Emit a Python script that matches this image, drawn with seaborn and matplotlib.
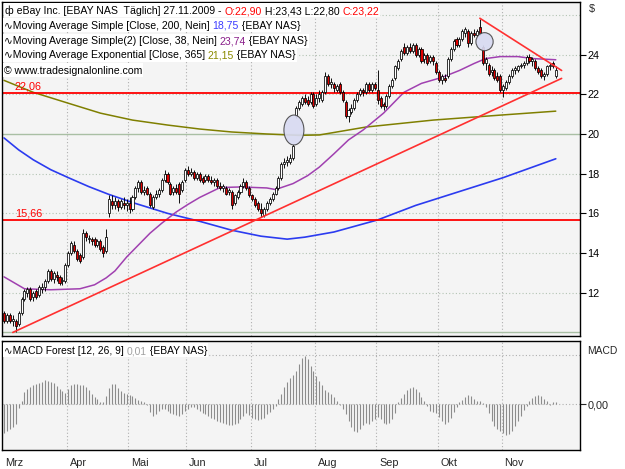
import numpy as np
import pandas as pd
import matplotlib
matplotlib.use("Agg")
import matplotlib.pyplot as plt
import seaborn as sns
from matplotlib.patches import Ellipse, Rectangle
from matplotlib.transforms import ScaledTranslation

# ---------------- data ----------------
months = ['Mrz', 'Apr', 'Mai', 'Jun', 'Jul', 'Aug', 'Sep', 'Okt', 'Nov']
month_start = [0, 22, 43, 63, 85, 107, 128, 149, 171]

opens = [11.0, 10.6, 10.9, 10.6, 10.6, 10.4, 11.0, 11.7, 12.0, 12.2, 11.8, 12.1, 11.9, 12.2, 12.3, 12.6, 13.1, 12.7, 12.9, 12.8,
         12.6, 12.6, 13.4, 14.0, 14.4, 14.1, 13.9, 13.8, 15.0, 14.7, 14.7, 14.7, 14.4, 14.6, 14.3, 14.1, 16.0, 16.6, 16.4, 16.6,
         16.3, 16.5, 16.4, 16.5, 16.2, 16.8, 17.3, 17.6, 17.1, 17.3, 17.0, 16.3, 16.8, 17.0, 17.2, 17.7, 18.0, 17.5, 17.1, 17.3,
         17.5, 17.2, 17.7, 18.2, 18.0, 18.1, 17.8, 18.0, 17.8, 17.7, 17.9, 17.7, 17.6, 17.7, 17.4, 17.3, 17.3, 17.1, 17.1, 16.5,
         16.8, 17.1, 17.4, 17.6, 17.3, 16.9, 16.7, 16.5, 16.2, 15.9, 16.2, 16.5, 16.7, 17.0, 17.3, 17.8, 18.5, 18.6, 18.6, 18.8,
         20.9, 21.3, 21.5, 21.8, 21.7, 21.6, 22.0, 21.5, 21.8, 21.7, 22.1, 22.9, 22.5, 22.5, 22.2, 22.5, 22.1, 21.6, 20.9, 21.1,
         21.3, 21.7, 22.0, 22.2, 22.1, 22.5, 22.2, 22.5, 22.2, 21.8, 21.5, 21.4, 21.9, 22.4, 22.8, 23.3, 23.8, 24.4, 24.1, 24.4,
         24.2, 24.5, 24.0, 24.3, 23.8, 24.0, 23.7, 23.9, 23.6, 23.1, 22.7, 22.8, 22.9, 23.8, 24.3, 24.8, 24.5, 24.8, 25.1, 25.2,
         24.6, 25.1, 25.0, 25.4, 24.4, 23.6, 23.5, 23.1, 23.2, 22.9, 22.9, 22.2, 22.3, 22.6, 22.9, 23.2, 23.2, 23.4, 23.5, 23.6,
         23.9, 23.7, 23.7, 23.3, 23.2, 22.9, 23.0, 23.4, 23.6, 22.90]
highs = [11.1, 11.0, 11.0, 10.9, 10.7, 11.1, 11.8, 12.2, 12.3, 12.3, 12.1, 12.2, 12.4, 12.5, 12.7, 13.2, 13.2, 13.1, 13.1, 12.9,
         12.8, 13.5, 14.1, 14.6, 14.6, 14.2, 14.0, 15.2, 15.1, 14.9, 14.8, 14.8, 14.7, 14.7, 14.4, 15.2, 16.9, 16.9, 16.8, 16.7,
         16.7, 16.8, 16.7, 16.8, 16.9, 17.4, 17.7, 17.7, 17.4, 17.4, 17.1, 16.9, 17.2, 17.3, 17.8, 18.2, 18.1, 17.6, 17.4, 17.5,
         17.6, 17.7, 18.3, 18.4, 18.3, 18.2, 18.1, 18.1, 17.9, 18.0, 18.0, 17.9, 17.8, 17.8, 17.6, 17.5, 17.4, 17.3, 17.2, 17.0,
         17.2, 17.5, 17.8, 17.7, 17.4, 17.0, 16.8, 16.6, 16.5, 16.3, 16.6, 16.8, 17.1, 17.4, 17.9, 18.6, 18.8, 18.9, 19.0, 19.5,
         21.4, 21.7, 21.9, 22.0, 21.9, 22.1, 22.1, 22.0, 22.2, 22.2, 23.1, 23.0, 22.8, 22.6, 22.5, 22.6, 22.2, 21.7, 21.3, 21.5,
         21.8, 22.1, 22.3, 22.3, 22.6, 22.6, 22.6, 22.6, 23.2, 21.9, 21.6, 22.0, 22.5, 22.8, 23.5, 23.8, 24.3, 24.6, 24.5, 24.6,
         24.6, 24.6, 24.4, 24.4, 24.1, 24.1, 24.0, 24.0, 23.7, 23.2, 23.0, 23.0, 23.9, 24.4, 24.8, 24.9, 24.9, 25.3, 25.4, 25.3,
         25.2, 25.3, 25.3, 25.8, 24.5, 23.9, 23.6, 23.4, 23.3, 23.1, 23.0, 22.5, 22.7, 23.0, 23.3, 23.4, 23.5, 23.6, 23.7, 24.0,
         24.05, 23.9, 23.8, 23.4, 23.3, 23.1, 23.5, 23.6, 23.7, 23.43]
lows = [10.5, 10.5, 10.5, 10.3, 10.0, 10.3, 10.9, 11.6, 11.8, 11.6, 11.6, 11.7, 11.8, 12.0, 12.1, 12.5, 12.6, 12.5, 12.6, 12.4,
        12.4, 12.5, 13.3, 13.9, 14.0, 13.6, 13.5, 13.7, 14.6, 14.5, 14.4, 14.3, 14.3, 14.1, 13.8, 14.0, 15.8, 16.2, 16.2, 16.1,
        16.2, 16.2, 16.1, 16.0, 16.1, 16.7, 17.1, 17.0, 16.9, 16.9, 16.3, 16.2, 16.7, 16.8, 17.1, 17.6, 17.5, 16.9, 16.9, 17.0,
        16.5, 17.1, 17.6, 17.9, 17.9, 17.7, 17.7, 17.6, 17.5, 17.6, 17.6, 17.5, 17.4, 17.3, 17.2, 17.1, 16.9, 16.9, 16.2, 16.4,
        16.7, 17.0, 17.3, 17.2, 16.8, 16.6, 16.3, 16.1, 15.8, 15.8, 16.1, 16.4, 16.6, 16.9, 17.2, 17.7, 18.3, 18.4, 18.5, 18.7,
        20.8, 21.2, 21.4, 21.5, 21.4, 21.5, 21.3, 21.4, 21.6, 21.6, 22.0, 22.4, 22.3, 22.1, 22.1, 22.0, 21.6, 20.8, 20.6, 21.0,
        21.2, 21.6, 21.9, 21.9, 22.0, 22.1, 22.1, 22.2, 21.5, 21.3, 21.2, 21.3, 21.8, 22.3, 22.7, 23.2, 23.7, 24.0, 24.0, 24.1,
        24.1, 23.9, 23.9, 23.6, 23.6, 23.5, 23.6, 23.5, 23.0, 22.6, 22.5, 22.6, 22.8, 23.7, 24.2, 24.4, 24.4, 24.7, 24.9, 24.4,
        24.5, 24.9, 24.9, 25.0, 23.5, 23.2, 22.9, 22.9, 22.7, 22.6, 22.1, 21.85, 22.2, 22.5, 22.8, 23.0, 23.1, 23.3, 23.3, 23.5,
        23.6, 23.4, 23.2, 23.0, 22.8, 22.7, 22.9, 23.2, 23.3, 22.80]
closes = [10.6, 10.9, 10.6, 10.7, 10.3, 11.0, 11.7, 12.1, 12.2, 11.7, 12.0, 11.8, 12.3, 12.3, 12.6, 13.1, 12.7, 13.0, 12.8, 12.5,
          12.6, 13.4, 14.0, 14.5, 14.1, 13.7, 13.6, 15.0, 14.8, 14.7, 14.6, 14.4, 14.6, 14.2, 14.0, 14.8, 16.7, 16.4, 16.6, 16.3,
          16.6, 16.4, 16.5, 16.2, 16.8, 17.3, 17.6, 17.1, 17.2, 17.0, 16.4, 16.8, 17.0, 17.2, 17.7, 18.0, 17.6, 17.0, 17.3, 17.1,
          17.0, 17.6, 18.2, 18.0, 18.1, 17.8, 18.0, 17.7, 17.6, 17.9, 17.7, 17.6, 17.7, 17.4, 17.3, 17.4, 17.0, 17.2, 16.4, 16.9,
          17.1, 17.4, 17.6, 17.3, 16.9, 16.7, 16.4, 16.2, 16.0, 16.2, 16.5, 16.7, 17.0, 17.3, 17.8, 18.5, 18.6, 18.7, 18.8, 19.4,
          21.3, 21.6, 21.8, 21.6, 21.5, 22.0, 21.4, 21.8, 22.0, 22.1, 22.9, 22.5, 22.6, 22.3, 22.4, 22.1, 21.7, 20.9, 21.2, 21.3,
          21.7, 22.0, 22.2, 22.1, 22.5, 22.2, 22.5, 22.3, 21.7, 21.4, 21.4, 21.9, 22.4, 22.7, 23.4, 23.7, 24.2, 24.1, 24.4, 24.2,
          24.5, 24.0, 24.3, 23.7, 24.0, 23.6, 23.9, 23.7, 23.1, 22.7, 22.9, 22.7, 23.8, 24.3, 24.7, 24.5, 24.8, 25.2, 25.3, 24.6,
          25.1, 25.0, 25.2, 25.1, 23.6, 23.8, 23.0, 23.2, 22.8, 22.7, 22.2, 22.4, 22.6, 22.9, 23.2, 23.3, 23.4, 23.5, 23.6, 23.9,
          23.7, 23.8, 23.3, 23.1, 22.9, 23.0, 23.4, 23.5, 23.4, 23.22]

macd = [-0.29, -0.27, -0.25, -0.23, -0.20, -0.04, 0.03, 0.12, 0.15, 0.17, 0.19, 0.20, 0.21, 0.22, 0.24, 0.23, 0.22, 0.21, 0.18, 0.15,
        0.13, 0.11, 0.15, 0.19, 0.20, 0.20, 0.19, 0.19, 0.17, 0.14, 0.10, 0.07, 0.05, 0.02, 0.02, 0.08, 0.16, 0.20, 0.20, 0.16,
        0.13, 0.11, 0.10, 0.09, 0.08, 0.06, 0.04, 0.03, 0.02, -0.01, -0.08, -0.12, -0.10, -0.07, -0.05, -0.05, -0.07, -0.09, -0.10, -0.11,
        -0.12, -0.10, -0.07, -0.05, -0.03, -0.03, -0.05, -0.07, -0.09, -0.10, -0.12, -0.14, -0.15, -0.17, -0.18, -0.19, -0.20, -0.21, -0.21, -0.20,
        -0.19, -0.15, -0.12, -0.09, -0.11, -0.14, -0.15, -0.16, -0.15, -0.14, -0.10, -0.08, -0.05, -0.02, 0.05, 0.10, 0.17, 0.22, 0.26, 0.29,
        0.33, 0.40, 0.46, 0.48, 0.45, 0.38, 0.33, 0.28, 0.23, 0.19, 0.14, 0.12, 0.10, 0.07, 0.03, -0.01, -0.05, -0.10, -0.17, -0.23,
        -0.27, -0.28, -0.25, -0.21, -0.19, -0.20, -0.17, -0.15, -0.13, -0.15, -0.19, -0.20, -0.19, -0.15, -0.09, 0.02, 0.06, 0.10, 0.14, 0.16,
        0.17, 0.15, 0.12, 0.07, 0.03, -0.02, -0.07, -0.08, -0.09, -0.13, -0.17, -0.20, -0.18, -0.14, -0.08, -0.03, 0.02, 0.04, 0.07, 0.09,
        0.08, 0.05, 0.03, 0.03, 0.01, -0.03, -0.09, -0.17, -0.22, -0.25, -0.27, -0.29, -0.31, -0.30, -0.27, -0.22, -0.17, -0.12, -0.06, -0.02,
        0.03, 0.06, 0.08, 0.09, 0.08, 0.05, 0.03, -0.01, 0.02, 0.02]

ma200_idx = [0, 5, 10, 16, 22, 29, 36, 45, 56, 67, 78, 88, 97, 103, 113, 128, 141, 156, 171, 189]
ma200_val = [19.8, 19.2, 18.7, 18.2, 17.8, 17.35, 16.95, 16.5, 16.0, 15.6, 15.15, 14.85, 14.7, 14.8, 15.06, 15.67, 16.4, 17.1, 17.8, 18.75]

ma38_idx = [0, 7, 16, 26, 31, 35, 38, 42, 46, 50, 54, 59, 63, 67, 74, 81, 90, 93, 99, 104, 108, 113, 118, 123, 130, 137, 143,
            150, 156, 161, 165, 170, 176, 181, 189]
ma38_val = [12.8, 12.2, 12.15, 12.2, 12.4, 12.75, 13.1, 13.8, 14.4, 15.0, 15.5, 16.07, 16.45, 16.8, 17.3, 17.33, 17.28, 17.2, 17.5, 17.9,
            18.33, 19.0, 19.7, 20.2, 21.05, 22.1, 22.55, 22.85, 23.2, 23.55, 23.8, 23.9, 23.9, 23.8, 23.74]

ema365_idx = [0, 10, 22, 33, 44, 56, 67, 78, 90, 101, 108, 124, 147, 170, 189]
ema365_val = [22.7, 22.1, 21.55, 21.05, 20.7, 20.45, 20.25, 20.1, 20.0, 19.93, 19.95, 20.35, 20.7, 20.95, 21.15]

trend_up_idx = [3, 191]
trend_up_val = [10.0, 22.8]
trend_down_idx = [163, 191]
trend_down_val = [25.83, 23.2]

levels = [22.06, 15.66]
level_labels = ['22,06', '15,66']

ellipse_x = [99.3, 164.6]
ellipse_y = [20.2, 24.65]
ellipse_w = [6.85, 5.9]
ellipse_h = [1.51, 0.91]

price_ticks = [12, 14, 16, 18, 20, 22, 24]
price_dotted = [12, 14, 16, 18, 22, 24, 26]
price_solid = [10, 20]

assert len(opens) == len(highs) == len(lows) == len(closes) == len(macd) == 190

# ---------------- style ----------------
sns.set_style("white")
plt.rcParams['font.family'] = ['Liberation Sans', 'DejaVu Sans']

W, H = 625, 469
fig = plt.figure(figsize=(W / 100, H / 100), dpi=100)
fig.patch.set_facecolor('white')


def fx(px):
    return px / W


def fy(py):
    return 1 - py / H


ax = fig.add_axes([fx(2), fy(336), fx(580) - fx(2), fy(2) - fy(336)])
axm = fig.add_axes([fx(2), fy(450), fx(580) - fx(2), fy(341) - fy(450)])

n = len(closes)
df = pd.DataFrame({'idx': np.arange(n), 'open': opens, 'high': highs, 'low': lows,
                   'close': closes, 'macd': macd})

XL = (-0.7, 197.3)
for a in (ax, axm):
    a.set_facecolor('#f4f4f4')
    a.set_xlim(*XL)
    for s in a.spines.values():
        s.set_color('black')
        s.set_linewidth(1.0)
ax.set_ylim(9.82, 26.65)
axm.set_ylim(-0.46, 0.63)

grid_x = np.array(month_start) - 0.5
for a in (ax, axm):
    for gx in grid_x[1:]:
        a.axvline(gx, color='#b0b0b0', lw=0.8, ls=(0, (1, 2)), zorder=0.5)
for gy in price_dotted:
    ax.axhline(gy, color='#b4c4b4', lw=0.8, ls=(0, (1, 2)), zorder=0.5)
for gy in price_solid:
    ax.axhline(gy, color='#a9bfa4', lw=1.0, zorder=0.6)

# moving averages
sns.lineplot(x=ema365_idx, y=ema365_val, ax=ax, color='#7f7f00', lw=1.1, zorder=2)
sns.lineplot(x=ma200_idx, y=ma200_val, ax=ax, color='#2b3bf0', lw=1.2, zorder=2)
sns.lineplot(x=ma38_idx, y=ma38_val, ax=ax, color='#a040b0', lw=1.1, zorder=2)

# level lines
for lv, lb in zip(levels, level_labels):
    ax.axhline(lv, color='#ff0000', lw=1.3, zorder=2.5)
    ax.annotate(lb, (3.7, lv), xytext=(0, 1.5), textcoords='offset points',
                color='#ff0000', fontsize=7.8, ha='left', va='bottom', zorder=3)

# candles
up = df['close'] >= df['open']
ax.vlines(df['idx'], df['low'], df['high'], color='black', lw=0.65, zorder=4)
body_bottom = np.minimum(df['open'], df['close'])
body_h = np.maximum(np.abs(df['close'] - df['open']), 0.04)
ax.bar(df['idx'], body_h, bottom=body_bottom, width=0.7,
       color=np.where(up, 'white', '#e00000'), edgecolor='black', linewidth=0.55, zorder=5)

# trend lines
sns.lineplot(x=trend_up_idx, y=trend_up_val, ax=ax, color='#ff3030', lw=1.2, zorder=6)
sns.lineplot(x=trend_down_idx, y=trend_down_val, ax=ax, color='#ff3030', lw=1.2, zorder=6)

for ex, ey, ew, eh in zip(ellipse_x, ellipse_y, ellipse_w, ellipse_h):
    ax.add_patch(Ellipse((ex, ey), ew, eh, facecolor='#d8daf2', edgecolor='#4a4a4a',
                         lw=0.8, alpha=0.92, zorder=7))

ax.set_xticks([])
ax.yaxis.tick_right()
ax.set_yticks(price_ticks)
ax.set_yticklabels([str(t) for t in price_ticks])
ax.tick_params(axis='y', direction='out', length=4, width=0.8, pad=1.5,
               labelsize=7.8, right=True, left=False, colors='black')
ax.set_xlabel('')
ax.set_ylabel('')

# MACD forest
axm.vlines(df['idx'], 0, df['macd'], color='#8c8c8c', lw=0.8, zorder=3)
axm.axhline(0, color='#b0b0b0', lw=0.8, ls=(0, (1, 2)), zorder=0.5)
axm.axhline(0.49, color='#b0b0b0', lw=0.8, ls=(0, (1, 2)), zorder=0.5)
axm.yaxis.tick_right()
axm.set_yticks([0])
axm.set_yticklabels(['0,00'])
axm.tick_params(axis='y', direction='out', length=4, width=0.8, pad=1.5, labelsize=7.8,
                right=True, left=False)
axm.set_xticks(grid_x)
axm.set_xticklabels(months)
axm.tick_params(axis='x', direction='out', length=5, width=0.8, pad=0.5, labelsize=7.8)
offset = ScaledTranslation(2 / 72, 0, fig.dpi_scale_trans)
for lab in axm.get_xticklabels():
    lab.set_horizontalalignment('left')
    lab.set_transform(lab.get_transform() + offset)

# ---------------- header texts ----------------
renderer = fig.canvas.get_renderer()


def text_width(s, size):
    t = fig.text(0, 0, s + '|', fontsize=size)
    w1 = t.get_window_extent(renderer).width
    t.remove()
    t = fig.text(0, 0, '|', fontsize=size)
    w2 = t.get_window_extent(renderer).width
    t.remove()
    return w1 - w2


HS = 7.6


def draw_line(x_px, y_px, pieces, size=HS):
    full = ''.join(p for p, c in pieces)
    wfull = text_width(full, size)
    fig.patches.append(Rectangle((fx(x_px - 1), fy(y_px + 3.5)), wfull / W + 2 / W, 14 / H,
                                 transform=fig.transFigure, facecolor='white', edgecolor='none',
                                 zorder=9))
    pre = ''
    for s, c in pieces:
        dx = text_width(pre, size) if pre else 0
        fig.text(fx(x_px + dx), fy(y_px), s, fontsize=size, color=c, va='baseline', ha='left', zorder=11)
        pre += s


draw_line(5, 14, [('ф eBay Inc. [EBAY NAS  Täglich] 27.11.2009 - ', 'black'), ('O:22,90', '#ff0000'),
                  (' H:23,43 L:22,80 ', 'black'), ('C:23,22', '#ff0000')])
draw_line(4, 29, [('∿Moving Average Simple [Close, 200, Nein] ', 'black'), ('18,75', '#3c3cff'),
                  (' {EBAY NAS}', 'black')])
draw_line(4, 44, [('∿Moving Average Simple(2) [Close, 38, Nein] ', 'black'), ('23,74', '#8a1f8a'),
                  (' {EBAY NAS}', 'black')])
draw_line(4, 58.5, [('∿Moving Average Exponential [Close, 365] ', 'black'), ('21,15', '#8a8a00'),
                    (' {EBAY NAS}', 'black')])
draw_line(4, 74, [('© www.tradesignalonline.com', 'black')])
draw_line(4, 354, [('∿MACD Forest [12, 26, 9] ', 'black'), ('0,01', '#a0a0a0'),
                   (' {EBAY NAS}', 'black')], size=7.4)

fig.text(fx(589), fy(12), '$', fontsize=7.8, ha='left', va='baseline')
fig.text(fx(587), fy(354), 'MACD', fontsize=7.4, ha='left', va='baseline')

fig.savefig('out.png', dpi=100, facecolor='white')
